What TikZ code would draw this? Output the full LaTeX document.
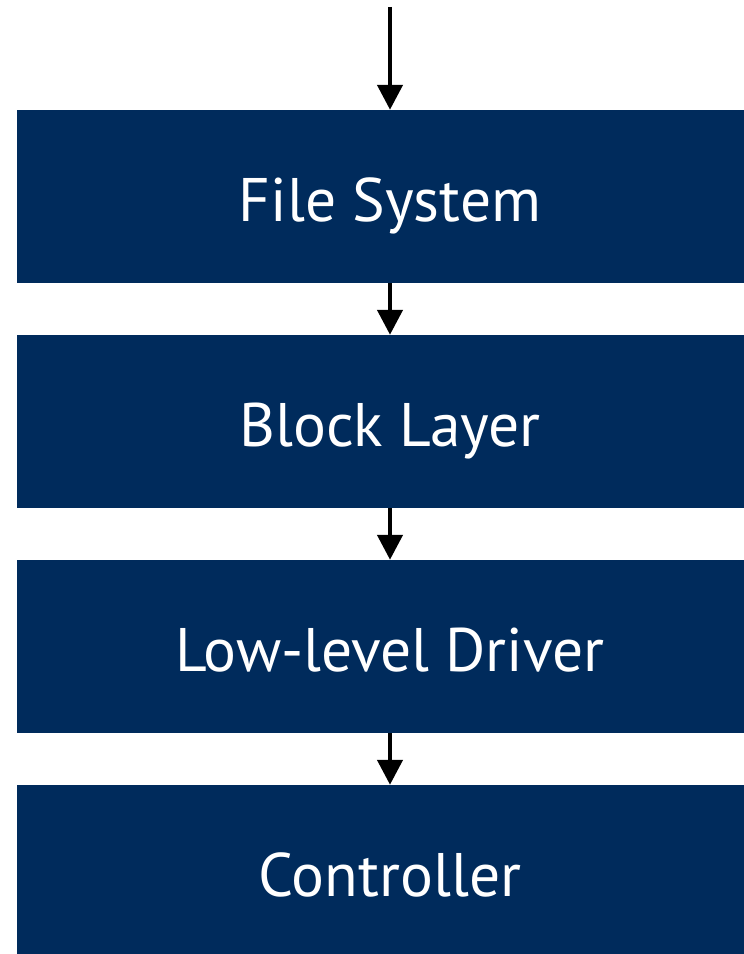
\documentclass[tikz,border=0pt]{standalone}
\usepackage{fontspec}
\setmainfont{PT Sans}
\usetikzlibrary{arrows.meta}
\definecolor{navy}{RGB}{0,43,92}
\begin{document}
\begin{tikzpicture}[x=1pt,y=1pt,
  layer/.style={fill=navy,text=white,minimum width=746pt,minimum height=173pt,inner sep=0pt,text height=51pt,text depth=0pt,font=\fontsize{61.5}{64}\selectfont},
  flow/.style={line width=4.5pt,-{Triangle[width=25pt,length=25pt]}}]
\useasboundingbox (0,0) rectangle (744,954);
\clip (0,0) rectangle (744,954);
\node[layer] (fs) at (390,757.5) {File System};
\node[layer] (bl) at (390,532.5) {Block Layer};
\node[layer] (ld) at (390,307.5) {Low-level Driver};
\node[layer] (ct) at (390,82.5) {Controller};
\coordinate (in) at (390,947);
\draw[flow] (in) -- (fs.north -| in);
\draw[flow] (fs.south -| in) -- (bl.north -| in);
\draw[flow] (bl.south -| in) -- (ld.north -| in);
\draw[flow] (ld.south -| in) -- (ct.north -| in);
\end{tikzpicture}
\end{document}
